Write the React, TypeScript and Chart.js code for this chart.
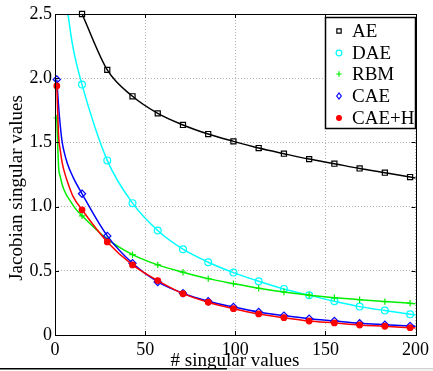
import React, { useEffect, useRef } from "react";
import { Chart, registerables } from "chart.js";

Chart.register(...registerables);

// ---------- data ----------
const seriesNames = ["AE", "DAE", "RBM", "CAE", "CAE+H"];
const markerX = [1, 15, 29, 43, 57, 71, 85, 99, 113, 127, 141, 155, 169, 183, 197];
const xTicks = [0, 50, 100, 150, 200];
const yTicks = [0, 0.5, 1, 1.5, 2, 2.5];

const aeMarkers = [null, 2.5, 2.065, 1.859, 1.726, 1.636, 1.565, 1.508, 1.456, 1.412, 1.37, 1.334, 1.297, 1.264, 1.23];
const daeMarkers = [null, 1.95, 1.36, 1.027, 0.814, 0.668, 0.567, 0.486, 0.419, 0.359, 0.31, 0.263, 0.221, 0.19, 0.161];
const rbmMarkers = [1.69, 0.928, 0.746, 0.626, 0.546, 0.489, 0.439, 0.4, 0.364, 0.335, 0.31, 0.291, 0.275, 0.26, 0.247];
const caeMarkers = [1.99, 1.1, 0.772, 0.559, 0.413, 0.325, 0.263, 0.218, 0.179, 0.151, 0.127, 0.109, 0.091, 0.08, 0.07];
const caehMarkers = [1.94, 0.975, 0.725, 0.546, 0.424, 0.322, 0.255, 0.205, 0.164, 0.135, 0.109, 0.094, 0.078, 0.068, 0.057];

// unmarked curve samples
const aeExtraX = [200];
const aeExtra = [1.222];
const daeExtraX = [4, 7, 10, 200];
const daeExtra = [2.95, 2.53, 2.24, 0.155];
const rbmExtraX = [2, 3, 4, 6, 8, 11, 200];
const rbmExtra = [1.31, 1.23, 1.17, 1.1, 1.055, 0.99, 0.243];
const caeExtraX = [2, 3, 4, 5, 7, 10, 200];
const caeExtra = [1.78, 1.62, 1.5, 1.43, 1.33, 1.23, 0.068];
const caehExtraX = [2, 3, 4, 5, 7, 10, 200];
const caehExtra = [1.55, 1.43, 1.34, 1.28, 1.19, 1.08, 0.055];

type P = { x: number; y: number; m: boolean };
function build(mv: (number | null)[], ex: number[], ev: number[]): P[] {
  const pts: P[] = [];
  mv.forEach((v, i) => {
    if (v !== null) pts.push({ x: markerX[i], y: v, m: true });
  });
  ex.forEach((x, i) => pts.push({ x, y: ev[i], m: false }));
  pts.sort((a, b) => a.x - b.x);
  return pts;
}

const SERIF = "'Liberation Serif', 'DejaVu Serif', serif";

const styles = [
  { color: "#000000", style: "rect", r: 3.6, fill: false },
  { color: "#00ffff", style: "circle", r: 3.4, fill: false },
  { color: "#00ee00", style: "cross", r: 3.2, fill: false },
  { color: "#0000ff", style: "rectRot", r: 3.6, fill: false },
  { color: "#ff0000", style: "circle", r: 2.8, fill: true },
];

function drawMarker(ctx: CanvasRenderingContext2D, s: any, x: number, y: number, r: number) {
  ctx.save();
  ctx.strokeStyle = s.color;
  ctx.fillStyle = s.color;
  ctx.lineWidth = 1.2;
  ctx.beginPath();
  if (s.style === "rect") {
    const h = r * Math.SQRT1_2;
    ctx.rect(x - h, y - h, 2 * h, 2 * h);
  } else if (s.style === "circle") {
    ctx.arc(x, y, r, 0, Math.PI * 2);
  } else if (s.style === "cross") {
    ctx.moveTo(x - r, y);
    ctx.lineTo(x + r, y);
    ctx.moveTo(x, y - r);
    ctx.lineTo(x, y + r);
  } else if (s.style === "rectRot") {
    ctx.moveTo(x - r * 0.75, y);
    ctx.lineTo(x, y - r);
    ctx.lineTo(x + r * 0.75, y);
    ctx.lineTo(x, y + r);
    ctx.closePath();
  }
  if (s.fill) ctx.fill();
  ctx.stroke();
  ctx.restore();
}

const decorPlugin = {
  id: "decor",
  afterDraw(chart: any) {
    const ctx: CanvasRenderingContext2D = chart.ctx;
    const a = chart.chartArea;
    const xs = chart.scales.x;
    const ys = chart.scales.y;
    ctx.save();
    // frame
    ctx.strokeStyle = "#000";
    ctx.lineWidth = 1;
    ctx.strokeRect(Math.round(a.left) + 0.5, Math.round(a.top) + 0.5, Math.round(a.right - a.left), Math.round(a.bottom - a.top));
    // inward ticks
    ctx.beginPath();
    xTicks.forEach((t) => {
      const px = Math.round(xs.getPixelForValue(t)) + 0.5;
      ctx.moveTo(px, a.bottom);
      ctx.lineTo(px, a.bottom - 4);
      ctx.moveTo(px, a.top);
      ctx.lineTo(px, a.top + 4);
    });
    yTicks.forEach((t) => {
      const py = Math.round(ys.getPixelForValue(t)) + 0.5;
      ctx.moveTo(a.left, py);
      ctx.lineTo(a.left + 4, py);
      ctx.moveTo(a.right, py);
      ctx.lineTo(a.right - 4, py);
    });
    ctx.stroke();

    // legend
    const lx = 325, ly = 17, lw = 90, lh = 111;
    ctx.fillStyle = "#fff";
    ctx.fillRect(lx, ly, lw, lh);
    ctx.lineWidth = 1.5;
    ctx.strokeStyle = "#000";
    ctx.strokeRect(lx + 0.5, ly + 0.5, lw, lh);
    const rowY = [31, 53, 74, 96, 118];
    ctx.font = `19px ${SERIF}`;
    ctx.textBaseline = "middle";
    ctx.textAlign = "left";
    seriesNames.forEach((n, i) => {
      drawMarker(ctx, styles[i], 339, rowY[i], styles[i].r * 0.85);
      ctx.fillStyle = "#000";
      ctx.fillText(n, 352, rowY[i] + 1);
    });

    // axis titles
    ctx.fillStyle = "#000";
    ctx.font = `19px ${SERIF}`;
    ctx.textAlign = "center";
    ctx.textBaseline = "alphabetic";
    ctx.fillText("# singular values", 235, 366);
    ctx.save();
    ctx.translate(22, 188);
    ctx.rotate(-Math.PI / 2);
    ctx.textBaseline = "alphabetic";
    ctx.fillText("Jacobian singular values", 0, 0);
    ctx.restore();

    // bottom cut line of the original image
    ctx.fillStyle = "#fff";
    ctx.fillRect(0, 368, 433, 3);
    ctx.fillStyle = "#f2f2f2";
    ctx.fillRect(227, 369, 206, 2);
    ctx.fillStyle = "#000";
    ctx.fillRect(0, 368, 227, 1.5);
    ctx.fillStyle = "#d0d0d0";
    ctx.fillRect(227, 368, 206, 1);
    ctx.restore();
  },
};

export default function App() {
  const ref = useRef<HTMLCanvasElement>(null);
  useEffect(() => {
    if (!ref.current) return;
    const all = [
      build(aeMarkers, aeExtraX, aeExtra),
      build(daeMarkers, daeExtraX, daeExtra),
      build(rbmMarkers, rbmExtraX, rbmExtra),
      build(caeMarkers, caeExtraX, caeExtra),
      build(caehMarkers, caehExtraX, caehExtra),
    ];
    const datasets = all.map((d, i) => {
      const s = styles[i];
      return {
        label: seriesNames[i],
        data: d,
        parsing: false as const,
        borderColor: s.color,
        backgroundColor: s.color,
        borderWidth: 1.5,
        cubicInterpolationMode: "monotone" as const,
        pointStyle: s.style,
        pointBorderColor: s.color,
        pointBackgroundColor: s.fill ? s.color : "rgba(0,0,0,0)",
        pointBorderWidth: 1.2,
        pointRadius: (c: any) => (c.raw && c.raw.m ? s.r : 0),
        pointHoverRadius: 0,
        order: 5 - i,
        clip: i === 1 ? { left: 6, top: 0, right: 6, bottom: 6 } : false,
      };
    });
    const tickFont = { family: SERIF, size: 18 };
    const chart = new Chart(ref.current, {
      type: "line",
      data: { datasets: datasets as any },
      options: {
        responsive: false,
        animation: false,
        devicePixelRatio: 1,
        layout: { padding: { top: 14, right: 15, left: 0, bottom: 0 } },
        plugins: { legend: { display: false }, tooltip: { enabled: false } },
        scales: {
          x: {
            type: "linear",
            min: 0,
            max: 200,
            afterBuildTicks: (s: any) => {
              s.ticks = xTicks.map((v) => ({ value: v }));
            },
            ticks: { font: tickFont, color: "#000", padding: 4, maxRotation: 0, autoSkip: false },
            grid: { color: "#b4b4b4", lineWidth: 1, drawTicks: false },
            border: { display: false, dash: [1, 2] },
            afterFit: (s: any) => {
              s.height = 36;
            },
          },
          y: {
            type: "linear",
            min: 0,
            max: 2.5,
            afterBuildTicks: (s: any) => {
              s.ticks = yTicks.map((v) => ({ value: v }));
            },
            ticks: { font: tickFont, color: "#000", padding: 3, autoSkip: false },
            grid: { color: "#b4b4b4", lineWidth: 1, drawTicks: false },
            border: { display: false, dash: [1, 2] },
            afterFit: (s: any) => {
              s.width = 55;
            },
          },
        },
      },
      plugins: [decorPlugin],
    });
    return () => chart.destroy();
  }, []);
  return (
    <div style={{ position: "fixed", left: 0, top: 0, width: 433, height: 371, background: "#fff" }}>
      <canvas ref={ref} width={433} height={371} style={{ width: 433, height: 371, display: "block" }} />
    </div>
  );
}
